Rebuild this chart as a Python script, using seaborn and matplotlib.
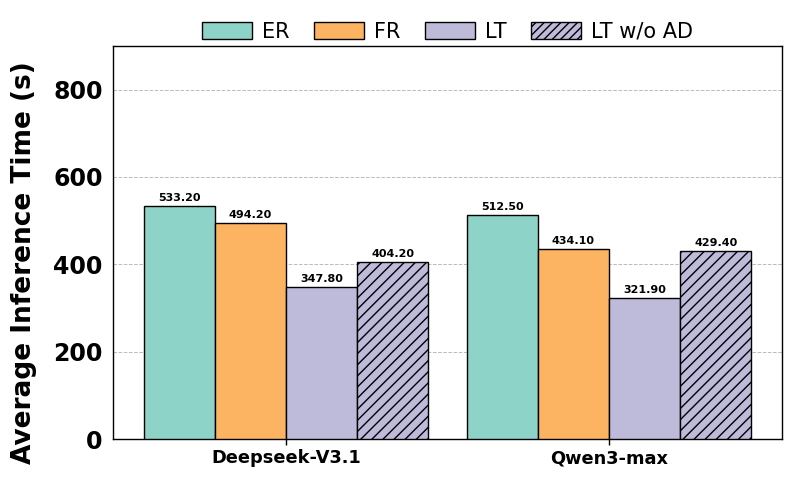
import pandas as pd
import seaborn as sns
import matplotlib.pyplot as plt
from matplotlib.patches import Patch

# data
models = ['Deepseek-V3.1', 'Qwen3-max']
methods = ['ER', 'FR', 'LT', 'LT w/o AD']
er = [533.2, 512.5]
fr = [494.2, 434.1]
lt = [347.8, 321.9]
lt_no_ad = [404.2, 429.4]

colors = ['#8dd3c7', '#fdb462', '#bebada', '#bebada']

rows = []
for name, vals in zip(methods, [er, fr, lt, lt_no_ad]):
    for m, v in zip(models, vals):
        rows.append({'model': m, 'method': name, 'time': v})
df = pd.DataFrame(rows)

sns.set_style('white')
plt.rcParams['hatch.linewidth'] = 1.0
plt.rcParams['text.color'] = 'black'
plt.rcParams['axes.labelcolor'] = 'black'
plt.rcParams['xtick.color'] = 'black'
plt.rcParams['ytick.color'] = 'black'

fig = plt.figure(figsize=(7.93, 4.79), dpi=100)
ax = fig.add_axes([0.1425, 0.0835, 0.8435, 0.8205])

sns.barplot(data=df, x='model', y='time', hue='method', hue_order=methods,
            palette=colors, width=0.88, edgecolor='black', linewidth=1.0,
            saturation=1, legend=False, ax=ax, zorder=3)

# hatch the last group + value labels
for i, cont in enumerate(ax.containers):
    for bar in cont:
        if i == 3:
            bar.set_hatch('///')
        ax.text(bar.get_x() + bar.get_width() / 2, bar.get_height() + 7,
                f'{bar.get_height():.2f}', ha='center', va='bottom',
                fontsize=8, fontweight='bold', color='black')

ax.set_ylim(0, 900)
ax.set_xlim(-0.535, 1.535)
ax.set_yticks([0, 200, 400, 600, 800])
ax.yaxis.grid(True, linestyle='--', color='#bbbbbb', linewidth=0.7, zorder=0)
ax.set_axisbelow(True)

ax.set_xlabel('')
ax.set_ylabel('Average Inference Time (s)', fontsize=19, fontweight='bold')
ax.yaxis.set_label_coords(-0.113, 0.45)
ax.tick_params(axis='y', labelsize=17, length=4, width=1)
ax.tick_params(axis='x', labelsize=12.8, length=4, width=1, bottom=True)
for lab in ax.get_xticklabels() + ax.get_yticklabels():
    lab.set_fontweight('bold')
for s in ax.spines.values():
    s.set_color('black')
    s.set_linewidth(1.0)

handles = [Patch(facecolor=c, edgecolor='black', hatch='////' if k == 3 else None)
           for k, c in enumerate(colors)]
ax.legend(handles, methods, ncol=4, frameon=False, fontsize=15,
          loc='lower center', bbox_to_anchor=(0.5, 0.99),
          handlelength=2.4, handleheight=0.85, columnspacing=1.15,
          handletextpad=0.5, borderaxespad=0)

fig.savefig('out.png', dpi=100)
